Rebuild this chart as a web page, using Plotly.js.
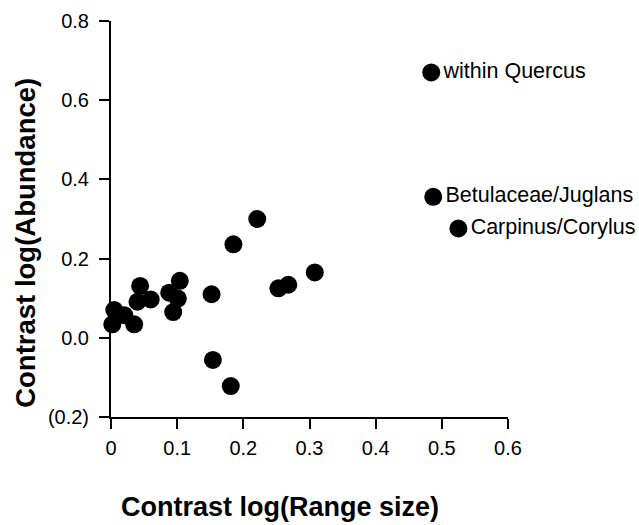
<!DOCTYPE html>
<html>
<head>
<meta charset="utf-8">
<script src="https://cdn.plot.ly/plotly-3.0.1.min.js"></script>
<style>html,body{margin:0;padding:0;background:#fff;}#chart{width:639px;height:525px;}</style>
</head>
<body>
<div id="chart"></div>
<script>
// Unlabelled contrasts
const rangeContrast = [0.002, 0.005, 0.020, 0.035, 0.040, 0.044, 0.060, 0.088, 0.094, 0.101, 0.104, 0.152, 0.154, 0.181, 0.185, 0.221, 0.253, 0.268, 0.308];
const abundContrast = [0.034, 0.070, 0.057, 0.034, 0.091, 0.131, 0.097, 0.114, 0.065, 0.099, 0.144, 0.110, -0.056, -0.122, 0.236, 0.300, 0.125, 0.134, 0.165];
// Labelled contrasts
const labelNames = ["within Quercus", "Betulaceae/Juglans", "Carpinus/Corylus"];
const labelRange = [0.484, 0.487, 0.525];
const labelAbund = [0.670, 0.356, 0.276];
// Tick labels
const xTickVals = [0, 0.1, 0.2, 0.3, 0.4, 0.5, 0.6];
const xTickText = ["0", "0.1", "0.2", "0.3", "0.4", "0.5", "0.6"];
const yTickVals = [-0.2, 0, 0.2, 0.4, 0.6, 0.8];
const yTickText = ["(0.2)", "0.0", "0.2", "0.4", "0.6", "0.8"];

const FONT = "Liberation Sans, Arial, Helvetica, sans-serif";

const traces = [
  {
    x: rangeContrast, y: abundContrast, type: "scatter", mode: "markers",
    marker: {size: 18, color: "#000"}, cliponaxis: false, hoverinfo: "none"
  },
  {
    x: labelRange, y: labelAbund, type: "scatter", mode: "markers+text",
    text: labelNames, textposition: "middle right",
    textfont: {family: FONT, size: 21.5, color: "#000"},
    marker: {size: 18, color: "#000"}, cliponaxis: false, hoverinfo: "none"
  }
];

const layout = {
  width: 639, height: 525,
  margin: {l: 111, r: 131, t: 21, b: 108, pad: 0},
  paper_bgcolor: "#fff", plot_bgcolor: "#fff",
  showlegend: false,
  font: {family: FONT, size: 20, color: "#000"},
  xaxis: {
    range: [0, 0.6], tickvals: xTickVals, ticktext: xTickText,
    showline: true, linecolor: "#000", linewidth: 2, mirror: false,
    ticks: "outside", ticklen: 10, tickwidth: 2, tickcolor: "#000",
    showgrid: false, zeroline: false, ticklabelstandoff: 2,
    tickfont: {family: FONT, size: 20, color: "#000"}
  },
  yaxis: {
    range: [-0.2, 0.8], tickvals: yTickVals, ticktext: yTickText,
    showline: true, linecolor: "#000", linewidth: 2, mirror: false,
    ticks: "outside", ticklen: 10, tickwidth: 2, tickcolor: "#000",
    showgrid: false, zeroline: false, ticklabelstandoff: 6,
    tickfont: {family: FONT, size: 20, color: "#000"}
  },
  annotations: [
    {
      text: "<b>Contrast log(Range size)</b>", xref: "paper", yref: "paper",
      x: 0.426, y: -0.228, xanchor: "center", yanchor: "middle", showarrow: false,
      font: {family: FONT, size: 27, color: "#000"}
    },
    {
      text: "<b>Contrast log(Abundance)</b>", xref: "paper", yref: "paper",
      x: -0.214, y: 0.44, xanchor: "center", yanchor: "middle", showarrow: false,
      textangle: -90,
      font: {family: FONT, size: 27.5, color: "#000"}
    }
  ]
};

Plotly.newPlot("chart", traces, layout, {displayModeBar: false, staticPlot: true});
</script>
</body>
</html>
